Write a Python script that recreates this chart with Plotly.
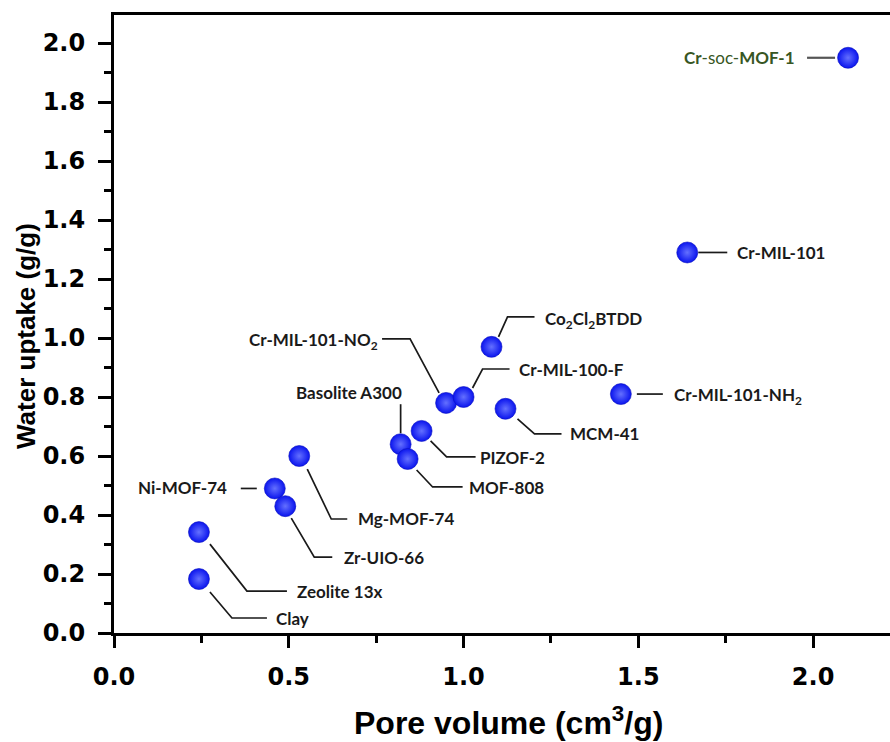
import plotly.graph_objects as go

# ---- data ----
materials = ["Cr-soc-MOF-1", "Cr-MIL-101", "Cr-MIL-101-NH2", "Co2Cl2BTDD", "Cr-MIL-101-NO2",
             "Cr-MIL-100-F", "MCM-41", "PIZOF-2", "Basolite A300", "MOF-808",
             "Mg-MOF-74", "Ni-MOF-74", "Zr-UIO-66", "Zeolite 13x", "Clay"]
pore_volume = [2.10, 1.64, 1.45, 1.08, 0.95, 1.00, 1.12, 0.88, 0.82, 0.84, 0.53, 0.46, 0.49, 0.243, 0.243]
water_uptake = [1.95, 1.29, 0.81, 0.97, 0.78, 0.80, 0.76, 0.685, 0.64, 0.59, 0.60, 0.49, 0.43, 0.342, 0.183]
label_text = ["<b>Cr</b>-soc-<b>MOF-1</b>", "Cr-MIL-101", "Cr-MIL-101-NH<sub>2</sub>",
              "Co<sub>2</sub>Cl<sub>2</sub>BTDD", "Cr-MIL-101-NO<sub>2</sub>", "Cr-MIL-100-F",
              "MCM-41", "PIZOF-2", "Basolite A300", "MOF-808", "Mg-MOF-74", "Ni-MOF-74",
              "Zr-UIO-66", "Zeolite 13x", "Clay"]
x_ticks = [0.0, 0.5, 1.0, 1.5, 2.0]
y_ticks = [0.0, 0.2, 0.4, 0.6, 0.8, 1.0, 1.2, 1.4, 1.6, 1.8, 2.0]

# ---- label layout (pixel offsets relative to marker; y up) ----
leaders = [
    ([(-13, 0), (-41, 0)], (-51, 0), "right"),
    ([(11, 0), (40, 0)], (48, 0), "left"),
    ([(16, 0), (42, 0)], (51, -2), "left"),
    ([(7, 10), (16, 30), (43, 30)], (51, 27), "left"),
    ([(-7, 10), (-36, 64), (-64, 64)], (-66, 62), "right"),
    ([(9, 9), (19, 28), (46, 28)], (53, 28), "left"),
    ([(12, -10), (29, -25), (56, -25)], (62, -25), "left"),
    ([(9, -10), (25, -26), (54, -26)], (56, -27), "left"),
    ([(0, 11), (0, 40)], (3, 52), "right"),
    ([(9, -11), (25, -28), (55, -28)], (59, -29), "left"),
    ([(8, -13), (32, -63), (48, -63)], (57, -62), "left"),
    ([(-18, 0), (-34, 0)], (-46, 1), "right"),
    ([(6, -12), (29, -51), (47, -51)], (57, -51), "left"),
    ([(11, -12), (48, -59), (88, -59)], (96, -59), "left"),
    ([(11, -13), (33, -39), (68, -39)], (75, -39), "left"),
]

fig = go.Figure()

shapes = []
annotations = []
for i, name in enumerate(materials):
    pts, (tx, ty), anc = leaders[i]
    path = "M " + " L ".join(f"{px},{py}" for px, py in pts)
    special = (i == 0)
    shapes.append(dict(type="path", path=path, xref="x", yref="y",
                       xsizemode="pixel", ysizemode="pixel",
                       xanchor=pore_volume[i], yanchor=water_uptake[i],
                       line=dict(color="#555555" if special else "#1a1a1a", width=2.2 if special else 1.7),
                       layer="below"))
    annotations.append(dict(x=pore_volume[i], y=water_uptake[i], xref="x", yref="y",
                            text=label_text[i] if special else f"<b>{label_text[i]}</b>",
                            showarrow=False, xshift=tx, yshift=ty,
                            xanchor=anc, yanchor="middle",
                            font=dict(family="Lato", size=17,
                                      color="#375623" if special else "#1a1a1a")))

fig.add_trace(go.Scatter(
    x=pore_volume, y=water_uptake, mode="markers", text=materials,
    marker=dict(size=21, color="#0a14ee",
                gradient=dict(type="radial", color="#6470ff"),
                line=dict(width=0.6, color="#0a10c0")),
    showlegend=False, cliponaxis=False,
))

# axis titles as annotations
annotations.append(dict(xref="paper", yref="paper", x=0, y=0.4806, xshift=-88,
                        text="<b>Water uptake (g/g)</b>", textangle=-90, showarrow=False,
                        xanchor="center", yanchor="middle",
                        font=dict(family="Liberation Sans", size=26, color="black")))
annotations.append(dict(xref="paper", yref="paper", x=0.508, y=0, yshift=-88,
                        text="<b>Pore volume (cm<sup>3</sup>/g)</b>", showarrow=False,
                        xanchor="center", yanchor="middle",
                        font=dict(family="Liberation Sans", size=32, color="black")))

fig.update_layout(
    width=890, height=742,
    margin=dict(l=114, r=0, t=15, b=109),
    paper_bgcolor="white", plot_bgcolor="white",
    shapes=shapes, annotations=annotations,
    xaxis=dict(range=[0, 2.22], tickvals=x_ticks, ticktext=[f"{v:.1f}" for v in x_ticks],
               showgrid=False, zeroline=False, showline=True, linecolor="black", linewidth=3,
               mirror=True, ticks="outside", ticklen=12, tickwidth=3, tickcolor="black",
               ticklabelstandoff=8,
               minor=dict(dtick=0.25, ticks="outside", ticklen=7, tickwidth=2.5, tickcolor="black"),
               tickfont=dict(family="DejaVu Sans", size=24, color="black", weight="bold")),
    yaxis=dict(range=[0, 2.095], tickvals=y_ticks, ticktext=[f"{v:.1f}" for v in y_ticks],
               showgrid=False, zeroline=False, showline=True, linecolor="black", linewidth=3,
               mirror=False, ticks="outside", ticklen=13, tickwidth=3, tickcolor="black",
               ticklabelstandoff=8,
               minor=dict(dtick=0.1, ticks="outside", ticklen=7, tickwidth=2.5, tickcolor="black"),
               tickfont=dict(family="DejaVu Sans", size=24, color="black", weight="bold")),
)

fig.write_html("out.html")
